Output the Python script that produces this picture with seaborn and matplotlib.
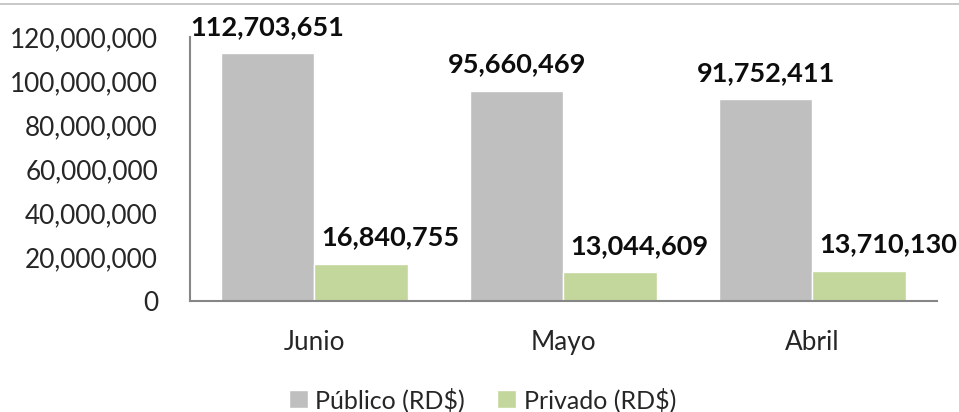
import matplotlib.pyplot as plt
import matplotlib.lines as mlines
import seaborn as sns
import pandas as pd

# values
meses = ["Junio", "Mayo", "Abril"]
publico = [112703651, 95660469, 91752411]
privado = [16840755, 13044609, 13710130]
series = ["Público (RD$)", "Privado (RD$)"]
colores = ["#BFBFBF", "#C3D69B"]
yticks = [0, 20000000, 40000000, 60000000, 80000000, 100000000, 120000000]

df = pd.DataFrame({
    "mes": meses * 2,
    "serie": [series[0]] * 3 + [series[1]] * 3,
    "monto": publico + privado,
})

sns.set_theme(style="white")
plt.rcParams["font.family"] = ["Lato", "DejaVu Sans"]

fig = plt.figure(figsize=(9.59, 4.12), dpi=100)
ax = fig.add_axes([0.198, 0.2694, 0.779, 0.6406])

sns.barplot(data=df, x="mes", y="monto", hue="serie", order=meses,
            hue_order=series, palette=colores, width=0.75, saturation=1,
            ax=ax, errorbar=None)

ax.set_ylim(0, 120000000)
ax.set_yticks(yticks)
ax.set_yticklabels([f"{v:,}" for v in yticks])
ax.set_xlabel("")
ax.set_ylabel("")
ax.tick_params(axis="both", length=0, labelsize=18.8, colors="#262626")
ax.tick_params(axis="y", pad=23)
ax.tick_params(axis="x", pad=21)
for s in ["top", "right"]:
    ax.spines[s].set_visible(False)
for s in ["left", "bottom"]:
    ax.spines[s].set_color("#868686")
    ax.spines[s].set_linewidth(1.5)

# data labels; the green ones sit a bit to the right in the original
shifts = [0, 21]
for cont, dx in zip(ax.containers, shifts):
    for bar in cont:
        h = bar.get_height()
        ax.annotate(f"{h:,.0f}", (bar.get_x() + bar.get_width() / 2, h),
                    xytext=(dx, 19), textcoords="offset points",
                    ha="center", va="center", fontsize=19.5,
                    fontweight="bold", color="#0D0D0D")

handles, labels = ax.get_legend_handles_labels()
ax.legend_.remove()
fig.legend(handles, labels, loc="center", bbox_to_anchor=(0.503, 0.03),
           ncol=2, frameon=False, fontsize=18, handlelength=0.75,
           handleheight=0.75, handletextpad=0.3, columnspacing=1.3,
           labelcolor="#262626")

# thin border line along the top of the picture
fig.add_artist(mlines.Line2D([0, 1], [0.99, 0.99], color="#BFBFBF",
                             linewidth=1.2, transform=fig.transFigure))

fig.savefig("out.png", dpi=100)
